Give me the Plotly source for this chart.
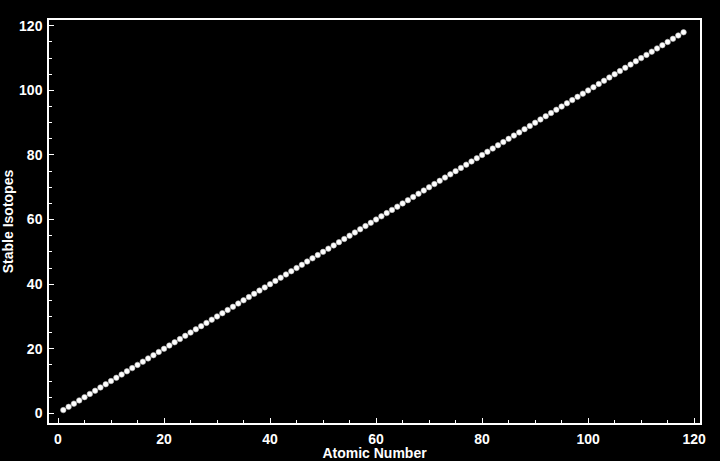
import plotly.graph_objects as go

atomic_number = list(range(1, 119))
stable_isotopes = [
    1, 2, 3, 4, 5, 6, 7, 8, 9, 10, 11, 12, 13, 14, 15, 16, 17, 18, 19, 20,
    21, 22, 23, 24, 25, 26, 27, 28, 29, 30, 31, 32, 33, 34, 35, 36, 37, 38, 39, 40,
    41, 42, 43, 44, 45, 46, 47, 48, 49, 50, 51, 52, 53, 54, 55, 56, 57, 58, 59, 60,
    61, 62, 63, 64, 65, 66, 67, 68, 69, 70, 71, 72, 73, 74, 75, 76, 77, 78, 79, 80,
    81, 82, 83, 84, 85, 86, 87, 88, 89, 90, 91, 92, 93, 94, 95, 96, 97, 98, 99, 100,
    101, 102, 103, 104, 105, 106, 107, 108, 109, 110, 111, 112, 113, 114, 115, 116, 117, 118,
]
x_ticks = [0, 20, 40, 60, 80, 100, 120]
y_ticks = [0, 20, 40, 60, 80, 100, 120]

FAM = "Liberation Sans, Arial, sans-serif"

fig = go.Figure(go.Scatter(
    x=atomic_number, y=stable_isotopes, mode="markers",
    marker=dict(size=5.5, color="white", line=dict(width=0.6, color="#bbbbbb")),
    hoverinfo="x+y",
))

axis_common = dict(
    showgrid=False, zeroline=False, showline=True, linecolor="white", linewidth=1.5,
    mirror=True, ticks="inside", ticklen=5, tickwidth=1, tickcolor="white",
    tickfont=dict(family=FAM, size=14, color="white", weight="bold"),
    minor=dict(ticks="inside", ticklen=3, dtick=5, tickcolor="white", tickwidth=1),
    automargin=False,
)

fig.update_layout(
    width=720, height=461,
    paper_bgcolor="black", plot_bgcolor="black",
    margin=dict(l=49, r=20, t=20, b=38, pad=0),
    font=dict(family=FAM, size=14, color="white"),
    showlegend=False,
    xaxis=dict(
        range=[-1.7, 121.1], tickvals=x_ticks, ticktext=[str(v) for v in x_ticks],
        title=dict(text="<b>Atomic Number</b>", font=dict(family=FAM, size=14, color="white"), standoff=4),
        ticklabelstandoff=2,
        **axis_common,
    ),
    yaxis=dict(
        range=[-3.0, 121.8], tickvals=y_ticks, ticktext=[str(v) for v in y_ticks],
        title=dict(text="<b>Stable Isotopes</b>", font=dict(family=FAM, size=14, color="white"), standoff=6),
        ticklabelstandoff=2,
        **axis_common,
    ),
)

fig.write_html(
    "out.html",
    config={"displayModeBar": False},
    post_script="document.body.style.margin='0';document.body.style.background='black';",
)
